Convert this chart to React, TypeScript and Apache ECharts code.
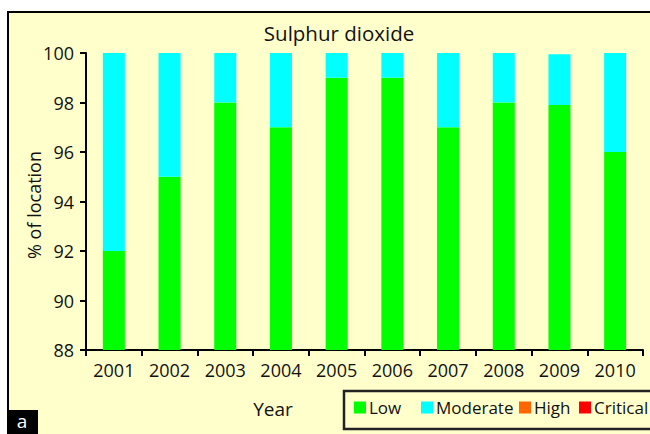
import React, { useEffect, useRef } from "react";
import * as echarts from "echarts";

const years = ["2001", "2002", "2003", "2004", "2005", "2006", "2007", "2008", "2009", "2010"];
const low = [92, 95, 98, 97, 99, 99, 97, 98, 97.9, 96];
const moderate = [8, 5, 2, 3, 1, 1, 3, 2, 2.05, 4];
const high = [0, 0, 0, 0, 0, 0, 0, 0, 0, 0];
const critical = [0, 0, 0, 0, 0, 0, 0, 0, 0, 0];
const seriesNames = ["Low", "Moderate", "High", "Critical"];
const seriesColors = ["#00ff00", "#00ffff", "#ff6600", "#ff0000"];
const legendLefts = [354, 421, 519, 579];

const FONT = "Open Sans";

export default function App() {
  const ref = useRef<HTMLDivElement>(null);
  useEffect(() => {
    if (!ref.current) return;
    const chart = echarts.init(ref.current, null, { renderer: "svg" });
    const values = [low, moderate, high, critical];
    chart.setOption({
      animation: false,
      backgroundColor: "#ffffff",
      textStyle: { fontFamily: FONT },
      grid: { left: 86, top: 53, right: 7, bottom: 84, containLabel: false },
      xAxis: {
        type: "category",
        data: years,
        boundaryGap: true,
        axisLine: { lineStyle: { color: "#000", width: 2 } },
        axisTick: { show: true, length: 6, alignWithLabel: false, lineStyle: { color: "#000", width: 2 } },
        axisLabel: { color: "#111", fontSize: 18, fontFamily: FONT, margin: 11 },
      },
      yAxis: {
        type: "value",
        min: 88,
        max: 100,
        interval: 2,
        splitLine: { show: false },
        axisLine: { show: true, lineStyle: { color: "#000", width: 2 } },
        axisTick: { show: true, length: 6, lineStyle: { color: "#000", width: 2 } },
        axisLabel: { color: "#111", fontSize: 18, fontFamily: FONT, margin: 12 },
      },
      legend: seriesNames.map((n, i) => ({
        data: [n],
        left: legendLefts[i],
        top: 399,
        padding: 0,
        icon: "rect",
        itemWidth: 12,
        itemHeight: 12,
        itemGap: 0,
        textStyle: { color: "#111", fontSize: 17, fontFamily: FONT, padding: [0, 0, 0, -2] },
        selectedMode: false,
      })),
      graphic: [
        {
          type: "rect",
          z: -10,
          shape: { x: 8, y: 12, width: 700, height: 500 },
          style: { fill: "#ffffcc", stroke: "#000", lineWidth: 2 },
          silent: true,
        },
        {
          type: "rect",
          z: -5,
          shape: { x: 344, y: 391, width: 400, height: 38 },
          style: { fill: "none", stroke: "#222", lineWidth: 2.5 },
          silent: true,
        },
        {
          type: "text",
          x: 339,
          y: 33,
          style: { text: "Sulphur dioxide", fontSize: 20.5, fontFamily: FONT, fill: "#111", textAlign: "center", textVerticalAlign: "middle" },
        },
        {
          type: "text",
          x: 273,
          y: 409,
          style: { text: "Year", fontSize: 19, fontFamily: FONT, fill: "#111", textAlign: "center", textVerticalAlign: "middle" },
        },
        {
          type: "text",
          x: 34,
          y: 205,
          rotation: Math.PI / 2,
          style: { text: "% of location", fontSize: 18, fontFamily: FONT, fill: "#111", textAlign: "center", textVerticalAlign: "middle" },
        },
        {
          type: "rect",
          shape: { x: 7, y: 410, width: 31, height: 30 },
          style: { fill: "#000" },
        },
        {
          type: "text",
          x: 22,
          y: 421,
          style: { text: "a", fontSize: 19, fontFamily: FONT, fill: "#fff", textAlign: "center", textVerticalAlign: "middle" },
        },
      ],
      series: seriesNames.map((n, i) => ({
        name: n,
        type: "bar",
        stack: "total",
        barWidth: 22,
        itemStyle: { color: seriesColors[i] },
        data: values[i],
      })),
    });
    return () => chart.dispose();
  }, []);
  return <div ref={ref} style={{ position: "fixed", left: 0, top: 0, width: 650, height: 434 }} />;
}
